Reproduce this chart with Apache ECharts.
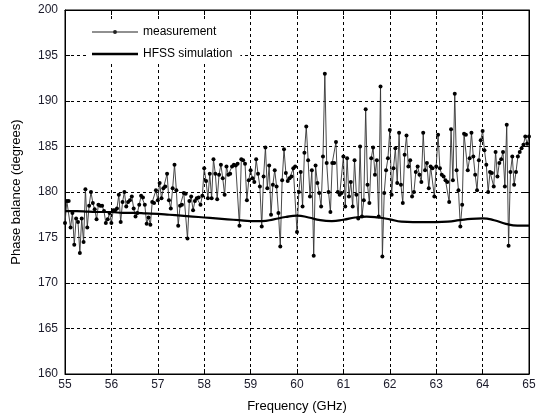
<!DOCTYPE html>
<html>
<head>
<meta charset="utf-8">
<title>Phase balance</title>
<script src="https://cdn.jsdelivr.net/npm/echarts@6/dist/echarts.min.js"></script>
<style>
	html, body { margin: 0; padding: 0; background: #fff; }
	#main { width: 545px; height: 419px; }
</style>
</head>
<body>
<div id="main"></div>
<script>
	// measurement, one row per GHz, 0.04 GHz apart
	var measStart = 55, measStep = 0.04;
	var meas55 = [176.6, 179.0, 179.0, 176.1, 177.7, 174.2, 177.1, 176.7, 173.3, 177.1, 174.5, 180.3, 176.1, 178.5, 180.0, 178.8, 178.1, 177.0, 178.6, 178.5, 178.5, 177.9, 176.6, 177.0, 177.7];
	var meas56 = [176.6, 178.0, 178.0, 178.2, 179.7, 176.7, 178.9, 180.0, 178.4, 178.9, 179.1, 179.5, 178.2, 177.3, 177.7, 178.6, 179.6, 179.4, 178.6, 176.5, 177.2, 176.4, 178.9, 178.8, 180.2];
	var meas57 = [179.1, 181.0, 179.3, 180.4, 180.6, 182.0, 179.1, 178.2, 180.4, 183.0, 180.2, 176.3, 178.5, 178.6, 179.9, 179.8, 174.9, 179.0, 179.5, 178.0, 179.0, 179.3, 179.4, 178.6, 179.6];
	var meas58 = [182.6, 181.2, 179.3, 182.0, 179.3, 183.6, 182.0, 179.2, 181.9, 183.0, 181.5, 179.7, 182.8, 181.9, 182.0, 182.8, 183.0, 182.9, 183.1, 176.3, 183.6, 183.5, 183.1, 179.1, 181.3];
	var meas59 = [182.4, 181.5, 181.1, 183.6, 182.0, 180.6, 176.2, 181.7, 184.9, 180.4, 182.9, 177.5, 180.8, 182.4, 180.6, 177.7, 174.0, 181.3, 184.7, 182.1, 181.2, 181.5, 181.7, 182.6, 182.8];
	var meas60 = [175.6, 180.0, 182.2, 178.4, 184.3, 187.2, 183.5, 179.5, 182.4, 173.0, 182.9, 181.0, 179.9, 178.4, 183.9, 193.0, 183.2, 180.0, 177.8, 183.2, 183.2, 185.5, 180.0, 179.7, 179.9];
	var meas61 = [183.9, 178.4, 183.7, 179.5, 181.1, 178.4, 183.5, 179.7, 177.1, 185.0, 177.3, 179.1, 189.1, 180.8, 178.8, 183.7, 184.9, 181.9, 183.5, 177.3, 191.6, 172.9, 179.9, 182.4, 183.7];
	var meas62 = [186.8, 179.7, 182.6, 184.8, 181.0, 186.5, 180.8, 178.8, 184.1, 186.2, 182.8, 183.5, 179.5, 180.0, 182.2, 182.8, 181.9, 181.1, 186.5, 182.4, 183.2, 180.4, 182.8, 182.6, 179.5];
	var meas63 = [182.8, 186.3, 182.6, 181.9, 181.7, 181.3, 181.1, 178.9, 186.9, 181.3, 190.8, 182.4, 180.2, 176.2, 178.6, 186.4, 186.3, 182.4, 183.7, 186.5, 183.9, 181.9, 180.2, 183.5, 185.7];
	var meas64 = [186.7, 184.6, 183.0, 180.0, 182.2, 182.1, 180.6, 184.4, 181.7, 183.2, 183.6, 184.4, 180.6, 187.4, 174.1, 182.2, 183.9, 180.8, 182.2, 183.9, 184.4, 184.8, 185.2, 186.1, 185.3];
	var meas65 = [186.1];

	// HFSS simulation, 0.25 GHz apart
	var simStart = 55, simStep = 0.25;
	var simValues = [177.9, 177.9, 177.85, 177.8, 177.8, 177.7, 177.7, 177.65, 177.6, 177.5,
		177.4, 177.3, 177.2, 177.1, 177.0, 176.9, 176.8, 176.8, 177.0, 177.25,
		177.4, 177.2, 176.9, 176.8, 176.95, 177.2, 177.3, 177.2, 177.0, 176.75,
		176.7, 176.7, 176.7, 176.75, 176.9, 177.05, 177.1, 176.9, 176.5, 176.3, 176.3];

	var measValues = [].concat(meas55, meas56, meas57, meas58, meas59, meas60, meas61, meas62, meas63, meas64, meas65);

	function toPairs(values, start, step) {
		var out = [];
		for (var i = 0; i < values.length; i++) {
			out.push([+(start + step * i).toFixed(3), values[i]]);
		}
		return out;
	}

	var myChart = echarts.init(document.getElementById('main'));

	var font = '"Liberation Sans", Arial, sans-serif';
	var tickStyle = { show: true, inside: true, length: 5, lineStyle: { color: '#000', width: 1 } };
	var gridDash = { show: true, lineStyle: { color: '#000', type: [3, 3], width: 1 } };

	// legend glyphs: thin line with a dot, and a thick line
	var measIcon = 'path://M0,2.5 L46,2.5 L46,3.5 L0,3.5 Z M21,3 A2,2 0 1,1 25,3 A2,2 0 1,1 21,3 Z';
	var simIcon = 'path://M0,0 L46,0 L46,2.4 L0,2.4 Z';

	var option = {
		animation: false,
		backgroundColor: '#fff',
		textStyle: { fontFamily: font },
		grid: {
			left: 65,
			right: 16,
			top: 10,
			bottom: 45,
			show: true,
			borderColor: '#000',
			borderWidth: 1
		},
		legend: {
			left: 86,
			top: 22,
			orient: 'vertical',
			itemWidth: 46,
			itemHeight: 8,
			itemGap: 10,
			padding: [4, 8, 4, 6],
			backgroundColor: '#fff',
			textStyle: { fontFamily: font, fontSize: 12, color: '#000' },
			data: [
				{ name: 'measurement', icon: measIcon, itemStyle: { color: '#222', borderWidth: 0 } },
				{ name: 'HFSS simulation', icon: simIcon, itemStyle: { color: '#000', borderWidth: 0 } }
			]
		},
		xAxis: [{
			type: 'value',
			min: 55,
			max: 65,
			interval: 1,
			name: 'Frequency (GHz)',
			nameLocation: 'middle',
			nameGap: 26,
			nameTextStyle: { fontFamily: font, fontSize: 13, color: '#000' },
			axisLine: { show: true, onZero: false, lineStyle: { color: '#000' } },
			axisTick: tickStyle,
			axisLabel: { fontFamily: font, fontSize: 12, color: '#1a1a2a', margin: 5 },
			splitLine: gridDash
		}, {
			type: 'value',
			position: 'top',
			min: 55,
			max: 65,
			interval: 1,
			axisLine: { show: true, lineStyle: { color: '#000' } },
			axisTick: tickStyle,
			axisLabel: { show: false },
			splitLine: { show: false }
		}],
		yAxis: [{
			type: 'value',
			min: 160,
			max: 200,
			interval: 5,
			name: 'Phase balance (degrees)',
			nameLocation: 'middle',
			nameGap: 42,
			nameTextStyle: { fontFamily: font, fontSize: 13, color: '#000' },
			axisLine: { show: true, lineStyle: { color: '#000' } },
			axisTick: tickStyle,
			axisLabel: { fontFamily: font, fontSize: 12, color: '#1a1a2a', margin: 7 },
			splitLine: gridDash
		}, {
			type: 'value',
			position: 'right',
			min: 160,
			max: 200,
			interval: 5,
			axisLine: { show: true, lineStyle: { color: '#000' } },
			axisTick: tickStyle,
			axisLabel: { show: false },
			splitLine: { show: false }
		}],
		series: [
			{
				name: 'measurement',
				type: 'line',
				data: toPairs(measValues, measStart, measStep),
				symbol: 'circle',
				symbolSize: 4,
				showSymbol: true,
				itemStyle: { color: '#000' },
				lineStyle: { color: '#333', width: 0.9 },
				z: 3
			},
			{
				name: 'HFSS simulation',
				type: 'line',
				data: toPairs(simValues, simStart, simStep),
				smooth: true,
				symbol: 'none',
				itemStyle: { color: '#000' },
				lineStyle: { color: '#000', width: 2.2 },
				z: 4
			}
		]
	};

	myChart.setOption(option);

	window.addEventListener('resize', function() {
		myChart.resize();
	});
</script>
</body>
</html>
